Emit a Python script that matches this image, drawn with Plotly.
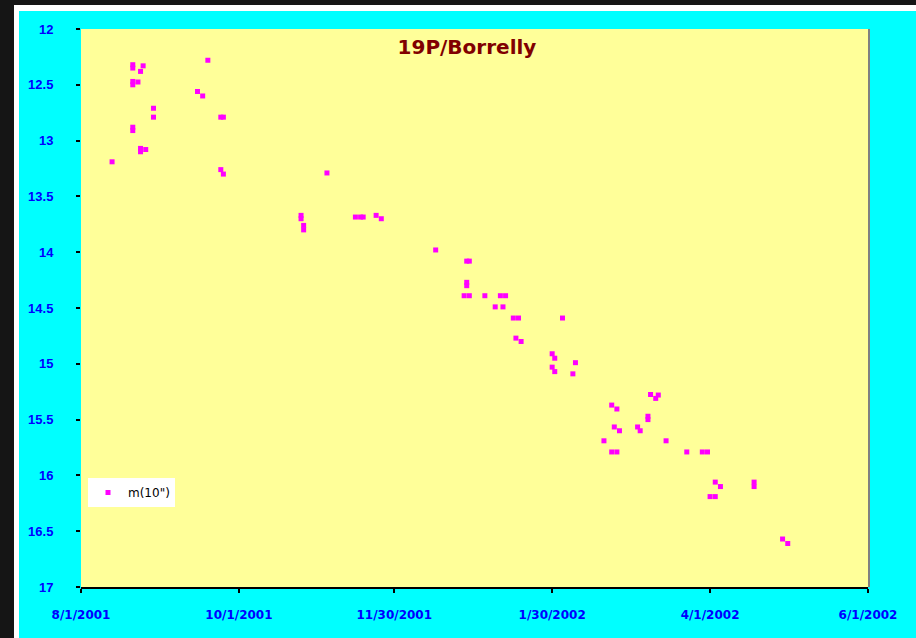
import plotly.graph_objects as go

# ---- data ----
obs_dates = [
    "2001-08-13",
    "2001-08-21", "2001-08-21",
    "2001-08-21", "2001-08-21", "2001-08-23",
    "2001-08-24", "2001-08-25",
    "2001-09-19",
    "2001-09-15", "2001-09-17",
    "2001-08-29", "2001-08-29",
    "2001-09-24", "2001-09-25",
    "2001-08-21", "2001-08-21",
    "2001-08-24", "2001-08-26", "2001-08-24",
    "2001-09-24", "2001-09-25",
    "2001-11-04",
    "2001-10-25", "2001-10-25",
    "2001-10-26", "2001-10-26",
    "2001-11-15", "2001-11-17", "2001-11-18",
    "2001-11-23", "2001-11-25",
    "2001-12-16",
    "2001-12-28", "2001-12-29",
    "2001-12-28", "2001-12-28",
    "2001-12-27", "2001-12-29",
    "2002-01-04",
    "2002-01-10", "2002-01-12",
    "2002-01-08", "2002-01-11",
    "2002-01-15", "2002-01-17",
    "2002-02-03",
    "2002-01-16", "2002-01-18",
    "2002-01-30", "2002-01-31",
    "2002-01-30", "2002-01-31",
    "2002-02-08",
    "2002-02-07",
    "2002-03-09", "2002-03-11", "2002-03-12",
    "2002-02-22", "2002-02-24",
    "2002-03-08", "2002-03-08",
    "2002-02-23", "2002-02-25",
    "2002-03-04", "2002-03-05",
    "2002-02-19",
    "2002-03-15",
    "2002-02-22", "2002-02-24",
    "2002-03-23",
    "2002-03-29", "2002-03-31",
    "2002-04-03", "2002-04-05",
    "2002-04-18", "2002-04-18",
    "2002-04-01", "2002-04-03",
    "2002-04-29", "2002-05-01",
]
magnitudes = [
    13.19,
    12.32, 12.35,
    12.47, 12.50, 12.475,
    12.38, 12.33,
    12.28,
    12.56, 12.60,
    12.71, 12.79,
    12.79, 12.79,
    12.88, 12.91,
    13.07, 13.08, 13.10,
    13.26, 13.30,
    13.29,
    13.67, 13.70,
    13.76, 13.80,
    13.685, 13.685, 13.685,
    13.67, 13.70,
    13.98,
    14.08, 14.08,
    14.27, 14.30,
    14.39, 14.39,
    14.39,
    14.39, 14.39,
    14.49, 14.49,
    14.59, 14.59,
    14.59,
    14.77, 14.80,
    14.91, 14.95,
    15.03, 15.07,
    14.99,
    15.09,
    15.275, 15.31, 15.28,
    15.37, 15.405,
    15.47, 15.50,
    15.566, 15.60,
    15.566, 15.60,
    15.69,
    15.69,
    15.79, 15.79,
    15.79,
    15.79, 15.79,
    16.06, 16.10,
    16.06, 16.10,
    16.19, 16.19,
    16.57, 16.61,
]
series_name = 'm(10")'
chart_title = "19P/Borrelly"

x_tick_dates = ["2001-08-01", "2001-10-01", "2001-11-30", "2002-01-30", "2002-04-01", "2002-06-01"]
x_tick_labels = ["8/1/2001", "10/1/2001", "11/30/2001", "1/30/2002", "4/1/2002", "6/1/2002"]
y_tick_vals = [12, 12.5, 13, 13.5, 14, 14.5, 15, 15.5, 16, 16.5, 17]
y_tick_labels = ["12", "12.5", "13", "13.5", "14", "14.5", "15", "15.5", "16", "16.5", "17"]

# ---- figure ----
W, H = 916, 638
L, R, T, B = 81, 48, 29, 51
pw, ph = W - L - R, H - T - B

def px(xp):
    return (xp - L) / pw

def py(yp):
    return (H - B - yp) / ph

fig = go.Figure()
fig.add_trace(go.Scatter(
    x=obs_dates, y=magnitudes, mode="markers", name=series_name,
    marker=dict(symbol="square", size=5, color="#FF00FF", line=dict(width=0)),
    showlegend=True,
))

shapes = [
    # white frame
    dict(type="rect", xref="paper", yref="paper", x0=px(14), x1=px(930), y0=py(650), y1=py(5),
         fillcolor="#FFFFFF", line=dict(width=0), layer="below"),
    # cyan panel
    dict(type="rect", xref="paper", yref="paper", x0=px(19), x1=px(930), y0=py(650), y1=py(11),
         fillcolor="#00FFFF", line=dict(width=0), layer="below"),
    # plot area shadow
    dict(type="rect", xref="paper", yref="paper", x0=px(81), x1=px(870), y0=py(587), y1=py(29),
         fillcolor="#808080", line=dict(width=0), layer="below"),
    # yellow plot area
    dict(type="rect", xref="paper", yref="paper", x0=0, x1=1, y0=0, y1=1,
         fillcolor="#FFFF99", line=dict(width=0), layer="below"),
]

fig.update_layout(
    width=W, height=H,
    margin=dict(l=L, r=R, t=T, b=B, pad=0),
    paper_bgcolor="#151515",
    plot_bgcolor="rgba(0,0,0,0)",
    shapes=shapes,
    title=dict(text=chart_title, x=px(467), xref="paper", y=py(47), yref="paper",
               xanchor="center", yanchor="middle",
               font=dict(family="DejaVu Sans", size=20, color="#800000", weight="bold")),
    showlegend=True,
    legend=dict(x=px(88), y=py(478), xanchor="left", yanchor="top",
                bgcolor="#FFFFFF", borderwidth=0,
                font=dict(family="DejaVu Sans", size=12, color="#000000"),
                itemsizing="trace", itemwidth=30,
                tracegroupgap=0),
    xaxis=dict(
        type="date", range=["2001-08-01", "2002-06-01"],
        tickvals=x_tick_dates, ticktext=x_tick_labels,
        showgrid=False, zeroline=False,
        showline=True, linecolor="#000000", linewidth=2,
        ticks="outside", ticklen=4, tickwidth=2, tickcolor="#000000",
        ticklabelstandoff=12,
        tickfont=dict(family="DejaVu Sans", size=12, color="#0000FF", weight="bold"),
    ),
    yaxis=dict(
        range=[17, 12],
        tickvals=y_tick_vals, ticktext=y_tick_labels,
        showgrid=False, zeroline=False, showline=False,
        ticks="outside", ticklen=4, tickwidth=2, tickcolor="#000000",
        ticklabelstandoff=20,
        tickfont=dict(family="Liberation Sans", size=13, color="#0000FF", weight="bold"),
    ),
)

fig.write_html(
    "out.html",
    config={"displayModeBar": False},
    post_script="document.body.style.margin='0px';document.body.style.overflow='hidden';",
)
